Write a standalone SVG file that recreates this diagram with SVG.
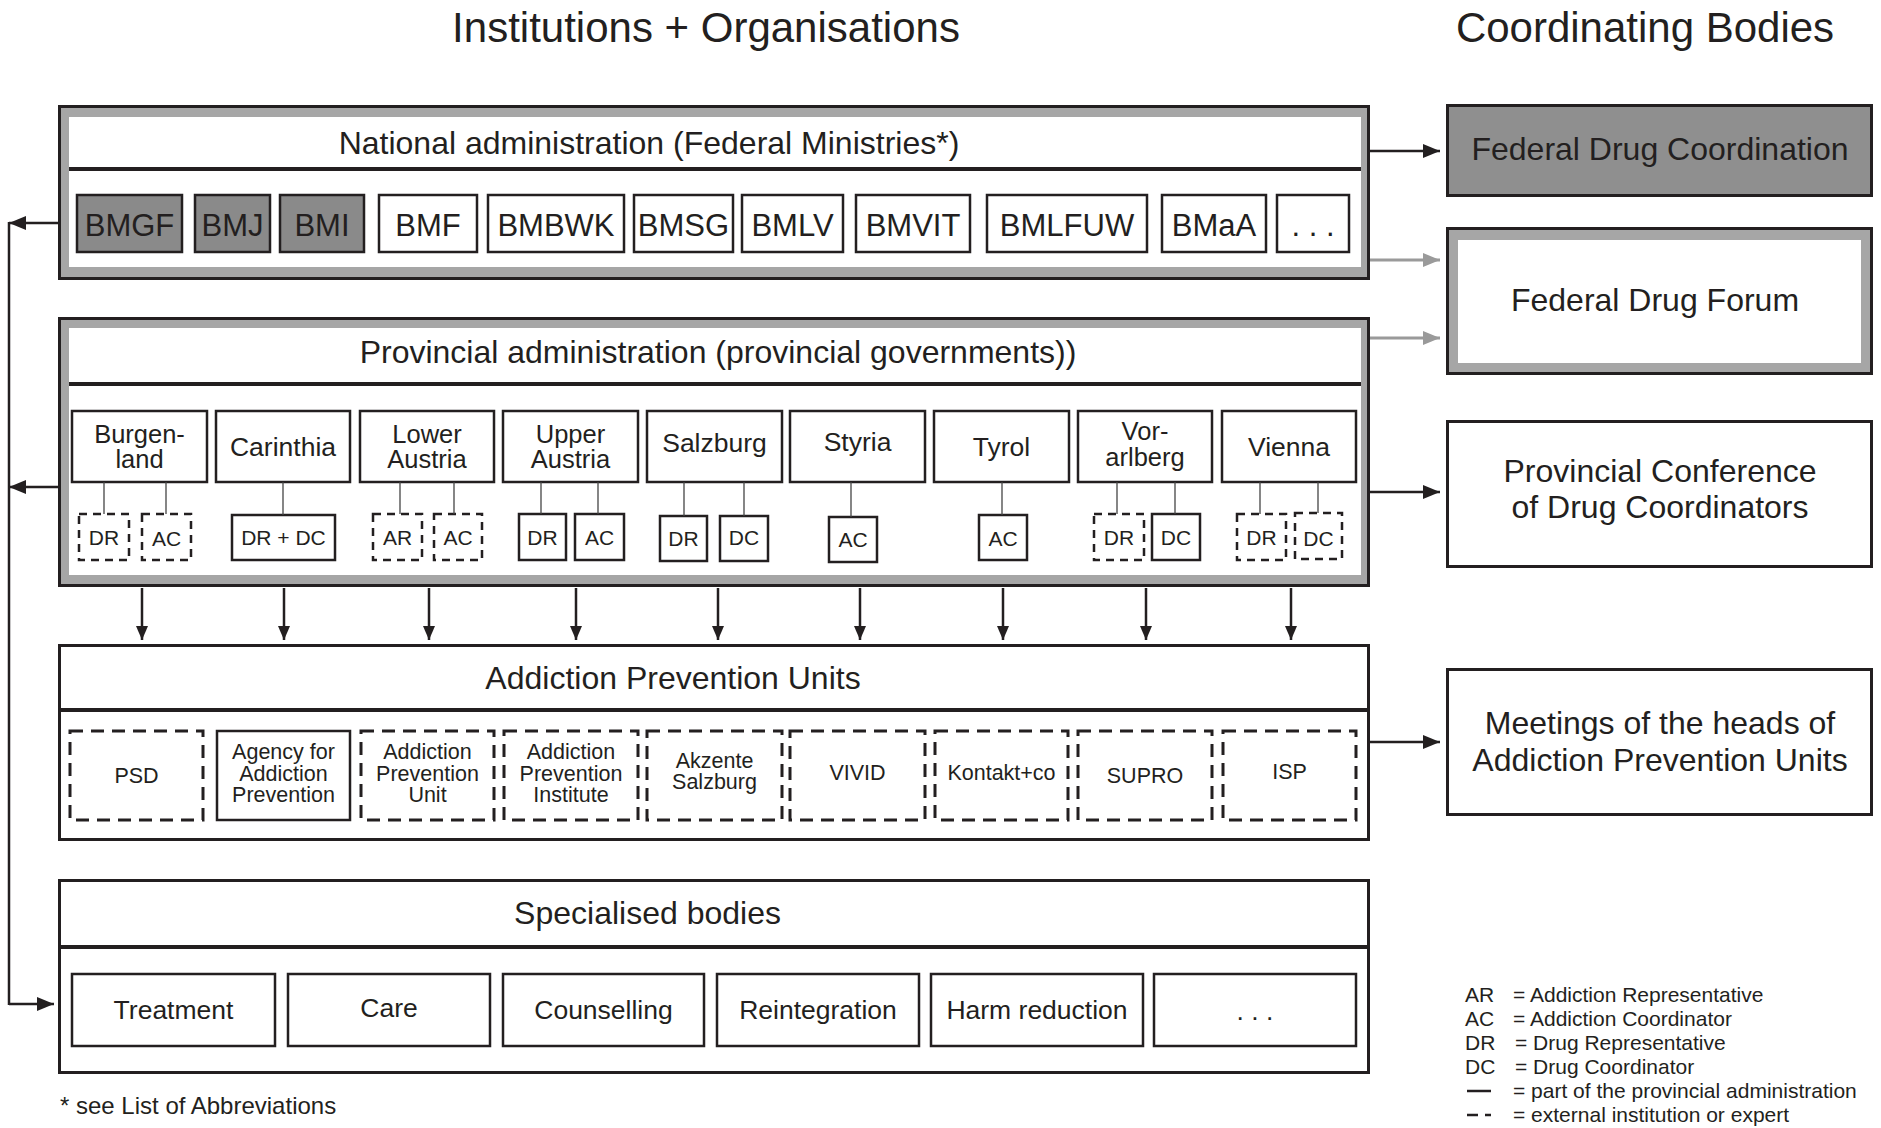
<svg xmlns="http://www.w3.org/2000/svg" width="1881" height="1128" viewBox="0 0 1881 1128">
<defs>
<style>
text{font-family:"Liberation Sans",Arial,Helvetica,sans-serif;fill:#231f20;text-anchor:middle}
.t32{font-size:32px}
.t42{font-size:42px}
.t31{font-size:31px}
.t26{font-size:26.5px}
.t25{font-size:25.5px}
.t21{font-size:21px}
.t215{font-size:21.5px}
.leg{font-size:21px;text-anchor:start}
.foot{font-size:24px;text-anchor:start}
.frame{fill:#a6a6a6;stroke:#231f20;stroke-width:3}
.plain{fill:#fff;stroke:#231f20;stroke-width:3}
.sep{stroke:#231f20;stroke-width:4}
.b{fill:#fff;stroke:#231f20;stroke-width:2.5}
.g{fill:#8a8a8a;stroke:#231f20;stroke-width:2.5}
.ds{fill:#fff;stroke:#231f20;stroke-width:2.5;stroke-dasharray:8 6}
.dl{fill:#fff;stroke:#231f20;stroke-width:3;stroke-dasharray:13 8}
.con{stroke:#231f20;stroke-width:2.5;fill:none}
.cong{stroke:#9a9a9a;stroke-width:3;fill:none}
.thin{stroke:#444;stroke-width:1.3}
</style>
<marker id="ah" viewBox="0 0 17 14" refX="17" refY="7" markerWidth="17" markerHeight="14" markerUnits="userSpaceOnUse" orient="auto">
<path d="M0,0 L17,7 L0,14 z" fill="#231f20"/>
</marker>
<marker id="ahg" viewBox="0 0 17 14" refX="17" refY="7" markerWidth="17" markerHeight="14" markerUnits="userSpaceOnUse" orient="auto">
<path d="M0,0 L17,7 L0,14 z" fill="#9a9a9a"/>
</marker>
<marker id="ahs" viewBox="0 0 14 12" refX="14" refY="6" markerWidth="14" markerHeight="12" markerUnits="userSpaceOnUse" orient="auto">
<path d="M0,0 L14,6 L0,12 z" fill="#231f20"/>
</marker>
</defs>
<rect width="1881" height="1128" fill="#fff"/>

<g id="headings">
<text class="t42" x="706" y="42">Institutions + Organisations</text>
<text class="t42" x="1645" y="42">Coordinating Bodies</text>
</g>

<g id="national">
<rect class="frame" x="59.5" y="106.5" width="1309" height="172"/>
<rect x="69" y="117" width="1292" height="150" fill="#fff"/>
<line class="sep" x1="69" y1="169" x2="1361" y2="169"/>
<text class="t32" x="649" y="154">National administration (Federal Ministries*)</text>
<g id="ministries">
<rect class="g" x="77" y="195" width="105" height="57"/><text class="t31" x="129.5" y="236">BMGF</text>
<rect class="g" x="195" y="195" width="75" height="57"/><text class="t31" x="232.5" y="236">BMJ</text>
<rect class="g" x="280" y="195" width="84" height="57"/><text class="t31" x="322" y="236">BMI</text>
<rect class="b" x="379" y="195" width="98" height="57"/><text class="t31" x="428" y="236">BMF</text>
<rect class="b" x="488" y="195" width="136" height="57"/><text class="t31" x="556" y="236">BMBWK</text>
<rect class="b" x="634" y="195" width="99" height="57"/><text class="t31" x="683.5" y="236">BMSG</text>
<rect class="b" x="742" y="195" width="101" height="57"/><text class="t31" x="792.5" y="236">BMLV</text>
<rect class="b" x="856" y="195" width="114" height="57"/><text class="t31" x="913" y="236">BMVIT</text>
<rect class="b" x="987" y="195" width="160" height="57"/><text class="t31" x="1067" y="236">BMLFUW</text>
<rect class="b" x="1162" y="195" width="104" height="57"/><text class="t31" x="1214" y="236">BMaA</text>
<rect class="b" x="1277" y="195" width="72" height="57"/><text class="t31" x="1313" y="236">. . .</text>
</g>
</g>

<g id="provincial">
<rect class="frame" x="59.5" y="318.5" width="1309" height="267"/>
<rect x="69" y="328" width="1292" height="247" fill="#fff"/>
<line class="sep" x1="69" y1="384" x2="1361" y2="384"/>
<text class="t32" x="718" y="363">Provincial administration (provincial governments))</text>
<g id="burgenland">
<rect class="b" x="72" y="411" width="135" height="71"/>
<text class="t25" x="139.5" y="443">Burgen-</text><text class="t25" x="139.5" y="468">land</text>
<rect class="ds" x="79" y="514" width="50" height="46"/><text class="t21" x="104" y="545">DR</text>
<rect class="ds" x="142" y="514" width="49" height="46"/><text class="t21" x="166.5" y="546">AC</text>
</g>
<g id="carinthia">
<rect class="b" x="216" y="411" width="134" height="71"/>
<text class="t26" x="283" y="456">Carinthia</text>
<rect class="b" x="232" y="515" width="103" height="45"/><text class="t21" x="283.5" y="545">DR + DC</text>
</g>
<g id="lower-austria">
<rect class="b" x="360" y="411" width="134" height="71"/>
<text class="t25" x="427" y="443">Lower</text><text class="t25" x="427" y="468">Austria</text>
<rect class="ds" x="373" y="514" width="49" height="46"/><text class="t21" x="397.5" y="545">AR</text>
<rect class="ds" x="434" y="514" width="48" height="46"/><text class="t21" x="458" y="545">AC</text>
</g>
<g id="upper-austria">
<rect class="b" x="503" y="411" width="135" height="71"/>
<text class="t25" x="570.5" y="443">Upper</text><text class="t25" x="570.5" y="468">Austria</text>
<rect class="b" x="519" y="514" width="47" height="46"/><text class="t21" x="542.5" y="545">DR</text>
<rect class="b" x="575" y="514" width="49" height="46"/><text class="t21" x="599.5" y="545">AC</text>
</g>
<g id="salzburg">
<rect class="b" x="647" y="411" width="135" height="71"/>
<text class="t26" x="714.5" y="452">Salzburg</text>
<rect class="b" x="660" y="516" width="47" height="45"/><text class="t21" x="683.5" y="546">DR</text>
<rect class="b" x="720" y="516" width="48" height="45"/><text class="t21" x="744" y="545">DC</text>
</g>
<g id="styria">
<rect class="b" x="790" y="411" width="135" height="71"/>
<text class="t26" x="857.5" y="451">Styria</text>
<rect class="b" x="829" y="517" width="48" height="45"/><text class="t21" x="853" y="547">AC</text>
</g>
<g id="tyrol">
<rect class="b" x="934" y="411" width="135" height="71"/>
<text class="t26" x="1001.5" y="456">Tyrol</text>
<rect class="b" x="979" y="515" width="48" height="45"/><text class="t21" x="1003" y="546">AC</text>
</g>
<g id="vorarlberg">
<rect class="b" x="1078" y="411" width="134" height="71"/>
<text class="t25" x="1145" y="440">Vor-</text><text class="t25" x="1145" y="466">arlberg</text>
<rect class="ds" x="1094" y="514" width="50" height="46"/><text class="t21" x="1119" y="545">DR</text>
<rect class="b" x="1152" y="514" width="48" height="46"/><text class="t21" x="1176" y="545">DC</text>
</g>
<g id="vienna">
<rect class="b" x="1222" y="411" width="134" height="71"/>
<text class="t26" x="1289" y="456">Vienna</text>
<rect class="ds" x="1237" y="514" width="49" height="46"/><text class="t21" x="1261.5" y="545">DR</text>
<rect class="ds" x="1295" y="513" width="47" height="46"/><text class="t21" x="1318.5" y="546">DC</text>
</g>
</g>

<g id="addiction-prevention">
<rect class="plain" x="59.5" y="645.5" width="1309" height="194"/>
<line class="sep" x1="59" y1="710" x2="1369" y2="710"/>
<text class="t32" x="673" y="689">Addiction Prevention Units</text>
<g id="psd"><rect class="dl" x="70" y="731" width="133" height="89"/><text class="t215" x="136.5" y="783">PSD</text></g>
<g id="agency"><rect class="b" x="217" y="731" width="133" height="89"/><text class="t215" x="283.5" y="759">Agency for</text><text class="t215" x="283.5" y="781">Addiction</text><text class="t215" x="283.5" y="802">Prevention</text></g>
<g id="apu"><rect class="dl" x="361" y="731" width="133" height="89"/><text class="t215" x="427.5" y="759">Addiction</text><text class="t215" x="427.5" y="781">Prevention</text><text class="t215" x="427.5" y="802">Unit</text></g>
<g id="api"><rect class="dl" x="504" y="731" width="134" height="89"/><text class="t215" x="571" y="759">Addiction</text><text class="t215" x="571" y="781">Prevention</text><text class="t215" x="571" y="802">Institute</text></g>
<g id="akzente"><rect class="dl" x="647" y="731" width="135" height="89"/><text class="t215" x="714.5" y="768">Akzente</text><text class="t215" x="714.5" y="789">Salzburg</text></g>
<g id="vivid"><rect class="dl" x="790" y="731" width="135" height="89"/><text class="t215" x="857.5" y="780">VIVID</text></g>
<g id="kontakt"><rect class="dl" x="935" y="731" width="133" height="89"/><text class="t215" x="1001.5" y="780">Kontakt+co</text></g>
<g id="supro"><rect class="dl" x="1078" y="731" width="134" height="89"/><text class="t215" x="1145" y="783">SUPRO</text></g>
<g id="isp"><rect class="dl" x="1223" y="731" width="133" height="89"/><text class="t215" x="1289.5" y="779">ISP</text></g>
</g>

<g id="specialised">
<rect class="plain" x="59.5" y="880.5" width="1309" height="192"/>
<line class="sep" x1="59" y1="947" x2="1369" y2="947"/>
<text class="t32" x="647.5" y="924">Specialised bodies</text>
<g id="treatment"><rect class="b" x="72" y="974" width="203" height="72"/><text class="t26" x="173.5" y="1019">Treatment</text></g>
<g id="care"><rect class="b" x="288" y="974" width="202" height="72"/><text class="t26" x="389" y="1017">Care</text></g>
<g id="counselling"><rect class="b" x="503" y="974" width="201" height="72"/><text class="t26" x="603.5" y="1019">Counselling</text></g>
<g id="reintegration"><rect class="b" x="717" y="974" width="202" height="72"/><text class="t26" x="818" y="1019">Reintegration</text></g>
<g id="harm"><rect class="b" x="931" y="974" width="212" height="72"/><text class="t26" x="1037" y="1019">Harm reduction</text></g>
<g id="more"><rect class="b" x="1154" y="974" width="202" height="72"/><text class="t26" x="1255" y="1020">. . .</text></g>
</g>

<g id="fed-drug-coordination">
<rect x="1447.5" y="105.5" width="424" height="90" fill="#8f8f8f" stroke="#231f20" stroke-width="3"/>
<text class="t32" x="1660" y="160">Federal Drug Coordination</text>
</g>
<g id="fed-drug-forum">
<rect class="frame" x="1447.5" y="228.5" width="424" height="145"/>
<rect x="1458" y="240" width="403" height="123" fill="#fff"/>
<text class="t32" x="1655" y="311">Federal Drug Forum</text>
</g>
<g id="prov-conference">
<rect class="plain" x="1447.5" y="421.5" width="424" height="145"/>
<text class="t32" x="1660" y="482">Provincial Conference</text>
<text class="t32" x="1660" y="518">of Drug Coordinators</text>
</g>
<g id="meetings">
<rect class="plain" x="1447.5" y="669.5" width="424" height="145"/>
<text class="t32" x="1660" y="734">Meetings of the heads of</text>
<text class="t32" x="1660" y="771">Addiction Prevention Units</text>
</g>

<g id="connectors">
<line class="con" x1="9" y1="222" x2="9" y2="1005"/>
<line class="con" x1="58" y1="223" x2="9" y2="223" marker-end="url(#ah)"/>
<line class="con" x1="58" y1="487" x2="9" y2="487" marker-end="url(#ah)"/>
<line class="con" x1="9" y1="1004" x2="54" y2="1004" marker-end="url(#ah)"/>
<line class="con" x1="1370" y1="151" x2="1440" y2="151" marker-end="url(#ah)"/>
<line class="cong" x1="1370" y1="260" x2="1440" y2="260" marker-end="url(#ahg)"/>
<line class="cong" x1="1370" y1="338" x2="1440" y2="338" marker-end="url(#ahg)"/>
<line class="con" x1="1370" y1="492" x2="1440" y2="492" marker-end="url(#ah)"/>
<line class="con" x1="1370" y1="742" x2="1440" y2="742" marker-end="url(#ah)"/>
<g id="down-arrows">
<line class="con" x1="142" y1="588" x2="142" y2="640" marker-end="url(#ahs)"/>
<line class="con" x1="284" y1="588" x2="284" y2="640" marker-end="url(#ahs)"/>
<line class="con" x1="429" y1="588" x2="429" y2="640" marker-end="url(#ahs)"/>
<line class="con" x1="576" y1="588" x2="576" y2="640" marker-end="url(#ahs)"/>
<line class="con" x1="718" y1="588" x2="718" y2="640" marker-end="url(#ahs)"/>
<line class="con" x1="860" y1="588" x2="860" y2="640" marker-end="url(#ahs)"/>
<line class="con" x1="1003" y1="588" x2="1003" y2="640" marker-end="url(#ahs)"/>
<line class="con" x1="1146" y1="588" x2="1146" y2="640" marker-end="url(#ahs)"/>
<line class="con" x1="1291" y1="588" x2="1291" y2="640" marker-end="url(#ahs)"/>
</g>
<g id="province-links">
<line class="thin" x1="104" y1="482" x2="104" y2="514"/>
<line class="thin" x1="166" y1="482" x2="166" y2="514"/>
<line class="thin" x1="283" y1="482" x2="283" y2="515"/>
<line class="thin" x1="400" y1="482" x2="400" y2="514"/>
<line class="thin" x1="454" y1="482" x2="454" y2="514"/>
<line class="thin" x1="541" y1="482" x2="541" y2="514"/>
<line class="thin" x1="598" y1="482" x2="598" y2="514"/>
<line class="thin" x1="684" y1="482" x2="684" y2="516"/>
<line class="thin" x1="744" y1="482" x2="744" y2="516"/>
<line class="thin" x1="851" y1="482" x2="851" y2="517"/>
<line class="thin" x1="1002" y1="482" x2="1002" y2="515"/>
<line class="thin" x1="1117" y1="482" x2="1117" y2="514"/>
<line class="thin" x1="1175" y1="482" x2="1175" y2="514"/>
<line class="thin" x1="1260" y1="482" x2="1260" y2="514"/>
<line class="thin" x1="1318" y1="482" x2="1318" y2="513"/>
</g>
</g>

<g id="footnote">
<text class="foot" x="60" y="1114">* see List of Abbreviations</text>
</g>

<g id="legend">
<text class="leg" x="1465" y="1002">AR</text><text class="leg" x="1513" y="1002">= Addiction Representative</text>
<text class="leg" x="1465" y="1026">AC</text><text class="leg" x="1513" y="1026">= Addiction Coordinator</text>
<text class="leg" x="1465" y="1050">DR</text><text class="leg" x="1515" y="1050">= Drug Representative</text>
<text class="leg" x="1465" y="1074">DC</text><text class="leg" x="1515" y="1074">= Drug Coordinator</text>
<line x1="1467" y1="1091" x2="1491" y2="1091" stroke="#231f20" stroke-width="2.5"/>
<text class="leg" x="1513" y="1098">= part of the provincial administration</text>
<line x1="1467" y1="1115" x2="1491" y2="1115" stroke="#231f20" stroke-width="2.5" stroke-dasharray="11 7"/>
<text class="leg" x="1513" y="1122">= external institution or expert</text>
</g>
</svg>
